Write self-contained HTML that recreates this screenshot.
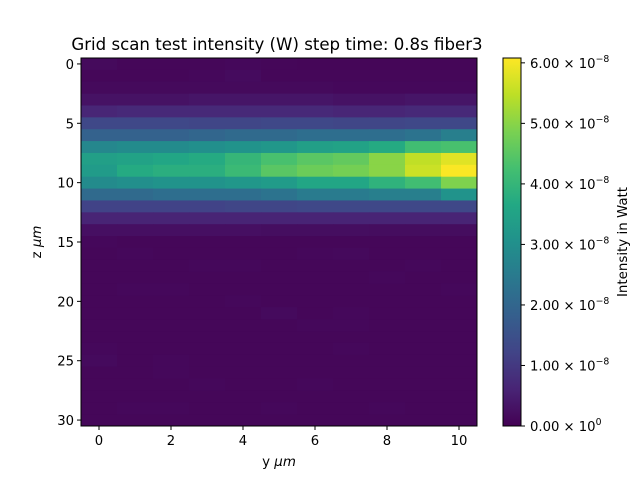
<!DOCTYPE html>
<html><head><meta charset="utf-8"><style>
body{margin:0;background:#fff;font-family:"Liberation Sans",sans-serif}
svg text{font-family:"DejaVu Sans","Liberation Sans",sans-serif;fill:#000}
</style></head><body>
<svg id="chart" width="640" height="480" xmlns="http://www.w3.org/2000/svg">
<text x="277" y="50" font-size="16.6" text-anchor="middle">Grid scan test intensity (W) step time: 0.8s fiber3</text>
<g id="cells"></g>
<rect x="81" y="58" width="396" height="368" fill="none" stroke="#000" stroke-width="1"/>
<g id="xt"></g>
<g id="yt"></g>
<text x="279" y="466" font-size="13.4" text-anchor="middle">y <tspan font-style="italic">μm</tspan></text>
<text transform="translate(41,242) rotate(-90)" font-size="13.4" text-anchor="middle">z <tspan font-style="italic">μm</tspan></text>
<defs><linearGradient id="vg" x1="0" y1="1" x2="0" y2="0"></linearGradient></defs>
<rect x="503" y="58" width="18" height="368" fill="url(#vg)" stroke="#000" stroke-width="1"/>
<g id="ct"></g>
<text transform="translate(627,242) rotate(-90)" font-size="13.4" text-anchor="middle">Intensity in Watt</text>
</svg>
<script>
const yCats=[0,1,2,3,4,5,6,7,8,9,10];
const xTicks=[0,2,4,6,8,10];
const zTicks=[0,5,10,15,20,25,30];
const cbTicks=[0,1,2,3,4,5,6];
const vmin=0, vmax=6.08; // units 1e-8 W
const intensity=[
[0.15,0.1,0.1,0.1,0.12,0.1,0.08,0.08,0.08,0.08,0.08],
[0.1,0.1,0.1,0.12,0.18,0.1,0.1,0.1,0.1,0.1,0.1],
[0.15,0.15,0.15,0.15,0.15,0.15,0.15,0.12,0.12,0.12,0.12],
[0.3,0.3,0.3,0.35,0.35,0.35,0.35,0.3,0.3,0.35,0.35],
[0.65,0.7,0.7,0.7,0.7,0.7,0.7,0.65,0.65,0.7,0.7],
[1.3,1.3,1.3,1.25,1.25,1.3,1.3,1.25,1.25,1.3,1.3],
[1.9,1.9,1.9,2.0,2.1,2.1,2.2,2.2,2.2,2.3,2.6],
[2.8,2.9,2.9,3.0,3.1,3.2,3.4,3.5,3.7,4.2,4.3],
[3.4,3.5,3.6,3.7,4.0,4.3,4.5,4.6,5.0,5.5,5.8],
[3.3,3.7,3.8,3.8,4.1,4.5,4.7,4.8,5.0,5.6,6.05],
[2.9,3.0,3.1,3.1,3.2,3.3,3.6,3.6,3.9,4.2,4.9],
[2.1,2.1,2.2,2.2,2.2,2.3,2.5,2.5,2.6,2.6,3.1],
[1.2,1.2,1.2,1.2,1.25,1.25,1.3,1.3,1.3,1.3,1.3],
[0.6,0.6,0.6,0.6,0.6,0.6,0.6,0.6,0.6,0.6,0.6],
[0.25,0.25,0.25,0.25,0.25,0.22,0.22,0.22,0.2,0.2,0.2],
[0.12,0.1,0.1,0.1,0.1,0.1,0.1,0.1,0.1,0.1,0.1],
[0.1,0.12,0.1,0.1,0.1,0.1,0.12,0.14,0.1,0.1,0.1],
[0.1,0.1,0.1,0.12,0.12,0.1,0.1,0.1,0.1,0.12,0.1],
[0.1,0.1,0.1,0.1,0.1,0.1,0.1,0.1,0.12,0.1,0.1],
[0.1,0.12,0.12,0.1,0.1,0.1,0.1,0.1,0.1,0.1,0.12],
[0.1,0.1,0.1,0.1,0.12,0.1,0.1,0.1,0.1,0.1,0.1],
[0.1,0.1,0.1,0.1,0.1,0.16,0.1,0.12,0.1,0.1,0.1],
[0.1,0.1,0.1,0.1,0.1,0.1,0.12,0.12,0.1,0.1,0.1],
[0.1,0.1,0.1,0.1,0.1,0.1,0.1,0.1,0.1,0.1,0.1],
[0.12,0.1,0.1,0.1,0.1,0.1,0.1,0.12,0.1,0.1,0.1],
[0.16,0.1,0.12,0.1,0.1,0.1,0.1,0.1,0.1,0.1,0.1],
[0.1,0.1,0.12,0.1,0.1,0.1,0.1,0.1,0.1,0.1,0.1],
[0.1,0.1,0.1,0.12,0.1,0.1,0.12,0.1,0.1,0.1,0.1],
[0.1,0.1,0.1,0.1,0.1,0.1,0.1,0.1,0.1,0.1,0.1],
[0.1,0.12,0.12,0.1,0.1,0.12,0.1,0.1,0.12,0.1,0.1],
[0.1,0.1,0.1,0.1,0.1,0.1,0.1,0.1,0.1,0.1,0.1]
];
const vir=[[68,1,84],[72,36,117],[65,68,135],[53,95,141],[42,120,142],[33,145,140],[34,168,132],[68,191,112],[122,209,81],[189,223,38],[253,231,37]];
function cmap(v){let t=Math.max(0,Math.min(1,(v-vmin)/(vmax-vmin)))*10;let i=Math.min(9,Math.floor(t)),f=t-i;const a=vir[i],b=vir[i+1];return `rgb(${a.map((c,k)=>Math.round(c+(b[k]-c)*f)).join(',')})`;}
const L=81,R=477,T=58,B=426;
const nx=yCats.length,nz=intensity.length;
const cw=(R-L)/nx,rh=(B-T)/nz;
const xS=v=>L+(v+0.5)*cw, zS=v=>T+(v+0.5)*rh, cS=v=>B-(v-vmin)/(vmax-vmin)*(B-T);
const NS="http://www.w3.org/2000/svg";
const mk=(t,a,p)=>{const e=document.createElementNS(NS,t);for(const k in a)e.setAttribute(k,a[k]);p.appendChild(e);return e;};
const cells=document.getElementById('cells');
intensity.forEach((row,zi)=>row.forEach((v,yi)=>{
 const r=mk('rect',{x:xS(yCats[yi])-cw/2,y:zS(zi)-rh/2,width:cw+0.5,height:rh+0.5,fill:cmap(v)},cells);
 
 
}));
const xt=document.getElementById('xt');
xTicks.forEach(v=>{const x=xS(v);mk('line',{x1:x,x2:x,y1:B,y2:B+4,stroke:'#000'},xt);
 const t=mk('text',{x:x,y:B+19,'font-size':13.2,'text-anchor':'middle'},xt);t.textContent=v;
 
 });
const yt=document.getElementById('yt');
zTicks.forEach(v=>{const y=zS(v);mk('line',{x1:L-4,x2:L,y1:y,y2:y,stroke:'#000'},yt);
 const t=mk('text',{x:L-7,y:y+5,'font-size':13.2,'text-anchor':'end'},yt);t.textContent=v;
 
 });
const g=document.getElementById('vg');
vir.forEach((c,i)=>mk('stop',{offset:(i/10),'stop-color':`rgb(${c.join(',')})`},g));
const ct=document.getElementById('ct');
cbTicks.forEach(v=>{const y=cS(v);mk('line',{x1:521,x2:525,y1:y,y2:y,stroke:'#000'},ct);
 const t=mk('text',{x:530,y:y+5,'font-size':13.2},ct);
 
 
 const exp=v===0?'0':'−8';
 t.innerHTML=`${v.toFixed(2)} × 10<tspan dy="-6" font-size="9.3">${exp}</tspan>`;});
</script>
</body></html>
